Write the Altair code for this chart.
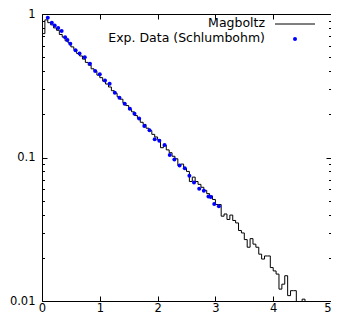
import altair as alt
import pandas as pd

# Magboltz histogram (bin width 0.05, starting at 0)
BIN_WIDTH = 0.05
magboltz = [
    0.73, 0.91, 0.87, 0.84, 0.80, 0.77, 0.72, 0.69, 0.65, 0.63,
    0.59, 0.565, 0.53, 0.51, 0.485, 0.46, 0.44, 0.415, 0.40, 0.375,
    0.36, 0.34, 0.325, 0.31, 0.292, 0.28, 0.265, 0.255, 0.24, 0.23,
    0.216, 0.208, 0.196, 0.188, 0.176, 0.170, 0.160, 0.154, 0.145, 0.139,
    0.133, 0.117, 0.122, 0.113, 0.108, 0.102, 0.098, 0.088, 0.090, 0.084,
    0.080, 0.068, 0.073, 0.068, 0.065, 0.062, 0.059, 0.056, 0.054, 0.051,
    0.047, 0.047, 0.039, 0.0404, 0.037, 0.0397, 0.0364, 0.035, 0.031, 0.0298,
    0.0268, 0.0237, 0.0272, 0.0249, 0.0237, 0.0212, 0.0196, 0.0206, 0.0206, 0.0171,
    0.0162, 0.0154, 0.0121, 0.0131, 0.0150, 0.0109, 0.0118, 0.0118, 0.0095, 0.0085,
    0.0103, 0.0085,
]

# Experimental data (Schlumbohm)
exp_x = [0.10, 0.17, 0.22, 0.28, 0.34, 0.40, 0.44, 0.49, 0.58, 0.65,
         0.74, 0.83, 0.92, 1.00, 1.09, 1.17, 1.26, 1.34, 1.43, 1.52,
         1.60, 1.68, 1.77, 1.86, 1.95, 2.03, 2.12, 2.21, 2.29, 2.38,
         2.47, 2.55, 2.63, 2.72, 2.80, 2.88, 2.92, 2.98, 3.06]
exp_y = [0.94, 0.87, 0.83, 0.80, 0.76, 0.69, 0.66, 0.62, 0.56, 0.53,
         0.50, 0.45, 0.40, 0.38, 0.344, 0.326, 0.283, 0.261, 0.237, 0.219,
         0.202, 0.187, 0.166, 0.155, 0.134, 0.131, 0.122, 0.104, 0.097, 0.088,
         0.084, 0.0745, 0.067, 0.0605, 0.0587, 0.0535, 0.053, 0.0475, 0.0457]

x_ticks = [0, 1, 2, 3, 4, 5]
y_major = [0.01, 0.1, 1]
y_minor = [0.02, 0.03, 0.04, 0.05, 0.06, 0.07, 0.08, 0.09,
           0.2, 0.3, 0.4, 0.5, 0.6, 0.7, 0.8, 0.9]
legend_labels = ["Magboltz", "Exp. Data (Schlumbohm)"]

edges = [round(i * BIN_WIDTH, 4) for i in range(len(magboltz))]
hist = pd.DataFrame({
    "x": edges + [round(len(magboltz) * BIN_WIDTH, 4)],
    "y": magboltz + [magboltz[-1]],
})
pts = pd.DataFrame({"x": exp_x, "y": exp_y})

FONT = "DejaVu Sans"
MAJ = 5
MIN = 2.5

xs = alt.Scale(domain=[0, 5], nice=False, zero=False)
ys = alt.Scale(type="log", domain=[0.01, 1], nice=False)

label_expr = "datum.value >= 0.99 ? '1' : (abs(datum.value - 0.1) < 0.001 ? '0.1' : '0.01')"

line = alt.Chart(hist).mark_line(
    interpolate="step-after", color="black", strokeWidth=1, clip=True
).encode(
    x=alt.X("x:Q", scale=xs, title=None,
            axis=alt.Axis(values=x_ticks, orient="bottom", offset=-MAJ, tickSize=MAJ,
                          domain=False, grid=False, labelPadding=1, format="d",
                          labelFlush=False, labelOverlap=False,
                          labelAlign={"condition": {"test": "datum.value >= 4.99", "value": "right"},
                                      "value": "center"})),
    y=alt.Y("y:Q", scale=ys, title=None,
            axis=alt.Axis(values=y_major, orient="left", offset=-MAJ, tickSize=MAJ,
                          domain=False, grid=False, labelPadding=7, labelExpr=label_expr,
                          labelFlush=False, labelOverlap=False)),
)

points = alt.Chart(pts).mark_point(
    filled=True, color="#0000ff", size=16, opacity=1, clip=True
).encode(
    x=alt.X("x:Q", scale=xs, title=None,
            axis=alt.Axis(values=x_ticks, orient="top", offset=-MAJ, tickSize=MAJ,
                          domain=False, grid=False, labels=False)),
    y=alt.Y("y:Q", scale=ys, title=None,
            axis=alt.Axis(values=y_major, orient="right", offset=-MAJ, tickSize=MAJ,
                          domain=False, grid=False, labels=False)),
)

minor_left = alt.Chart(pts).mark_point(opacity=0).encode(
    x=alt.X("x:Q", scale=xs, axis=None),
    y=alt.Y("y:Q", scale=ys, title=None,
            axis=alt.Axis(values=y_minor, orient="left", offset=-MIN, tickSize=MIN,
                          domain=False, grid=False, labels=False)),
)
minor_right = alt.Chart(pts).mark_point(opacity=0).encode(
    x=alt.X("x:Q", scale=xs, axis=None),
    y=alt.Y("y:Q", scale=ys, title=None,
            axis=alt.Axis(values=y_minor, orient="right", offset=-MIN, tickSize=MIN,
                          domain=False, grid=False, labels=False)),
)

leg = pd.DataFrame({"label": legend_labels, "row": [0, 1]})
leg_text1 = alt.Chart(leg[leg.row == 0]).mark_text(
    align="right", baseline="middle", font=FONT, fontSize=12.5, color="black"
).encode(x=alt.value(223), y=alt.value(9), text="label:N")
leg_text2 = alt.Chart(leg[leg.row == 1]).mark_text(
    align="right", baseline="middle", font=FONT, fontSize=12.5, color="black"
).encode(x=alt.value(223), y=alt.value(24), text="label:N")
leg_line = alt.Chart(leg[leg.row == 0]).mark_rule(color="black", strokeWidth=1).encode(
    x=alt.value(233), x2=alt.value(273), y=alt.value(10)
)
leg_dot = alt.Chart(leg[leg.row == 1]).mark_point(
    filled=True, color="#0000ff", size=16, opacity=1
).encode(x=alt.value(253), y=alt.value(25))

chart = alt.layer(
    line, points, minor_left, minor_right, leg_text1, leg_text2, leg_line, leg_dot
).resolve_scale(
    x="independent", y="independent"
).properties(
    width=289, height=287,
    background="white",
    autosize=alt.AutoSizeParams(type="none"),
    padding={"left": 34, "top": 6, "right": 0, "bottom": 13},
).configure_view(
    stroke="black", strokeWidth=1
).configure_axis(
    labelFont=FONT, labelFontSize=11.5, labelColor="black",
    tickColor="black", tickWidth=1,
)

chart.save("out.html", embed_options={"renderer": "svg", "actions": False})
